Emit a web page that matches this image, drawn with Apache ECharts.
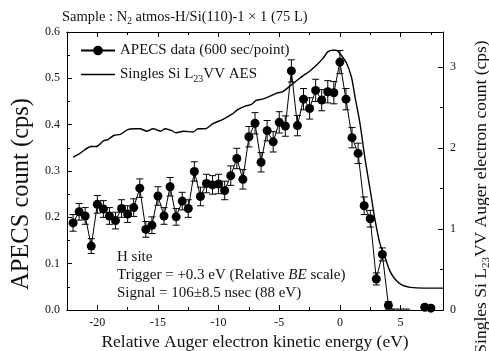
<!DOCTYPE html>
<html>
<head>
<meta charset="utf-8">
<script src="https://cdn.jsdelivr.net/npm/echarts@6/dist/echarts.min.js"></script>
<style>
  html, body { margin: 0; padding: 0; background: #fff; }
  #chart { width: 489px; height: 351px; }
</style>
</head>
<body>
<div id="chart"></div>
<script>
// APECS data, 0.5 eV steps
const apecsEnergy = [
  -22, -21.5, -21, -20.5, -20, -19.5, -19, -18.5, -18, -17.5,
  -17, -16.5, -16, -15.5, -15, -14.5, -14, -13.5, -13, -12.5,
  -12, -11.5, -11, -10.5, -10, -9.5, -9, -8.5, -8, -7.5,
  -7, -6.5, -6, -5.5, -5, -4.5, -4, -3.5, -3, -2.5,
  -2, -1.5, -1, -0.5, 0, 0.5, 1, 1.5, 2, 2.5,
  3, 3.5, 4, 4.5, 5, 5.5, 6, 6.5, 7, 7.5
];
const apecsCount = [
  0.188, 0.212, 0.203, 0.138, 0.228, 0.218, 0.203, 0.193, 0.219, 0.207,
  0.221, 0.263, 0.174, 0.183, 0.246, 0.203, 0.266, 0.201, 0.235, 0.219,
  0.299, 0.245, 0.273, 0.270, 0.272, 0.258, 0.290, 0.327, 0.282, 0.374,
  0.403, 0.319, 0.387, 0.363, 0.405, 0.397, 0.516, 0.398, 0.455, 0.435,
  0.474, 0.453, 0.471, 0.469, 0.535, 0.455, 0.372, 0.338, 0.225, 0.197,
  0.067, 0.120, 0.010, -0.002, -0.002, -0.002, -0.01, -0.01, 0.006, 0.004
];
const apecsError = [
  0.018, 0.018, 0.018, 0.016, 0.019, 0.018, 0.018, 0.018, 0.019, 0.018,
  0.019, 0.020, 0.017, 0.018, 0.020, 0.018, 0.020, 0.018, 0.019, 0.019,
  0.021, 0.020, 0.020, 0.020, 0.021, 0.020, 0.021, 0.022, 0.021, 0.022,
  0.023, 0.021, 0.022, 0.022, 0.023, 0.022, 0.024, 0.022, 0.023, 0.023,
  0.024, 0.023, 0.024, 0.024, 0.025, 0.023, 0.022, 0.022, 0.019, 0.018,
  0.013, 0.014, 0.008, 0.004, 0.004, 0.004, 0.004, 0.004, 0.006, 0.005
];

// singles Si L23VV AES (right axis)
const aesEnergy = [
  -22.0, -21.4, -20.5, -20.1, -19.5, -19.1, -18.6, -18.1, -17.5, -16.9,
  -16.5, -15.9, -15.4, -14.8, -14.4, -13.9, -13.5, -12.9, -12.1, -11.7,
  -11.1, -10.5, -9.6, -8.9, -8.4, -7.8, -7.3, -6.9, -6.3, -5.8,
  -5.2, -4.7, -4.1, -3.6, -3.0, -2.5, -1.9, -1.4, -1.0, -0.6,
  -0.3, 0.0, 0.55, 0.95, 1.25, 1.65, 2.05, 2.5, 2.9, 3.3,
  3.7, 4.1, 4.5, 5.1, 5.8, 6.9, 8.5
];
const aesCount = [
  1.89, 1.94, 2.02, 2.02, 2.09, 2.11, 2.16, 2.17, 2.23, 2.24,
  2.24, 2.21, 2.24, 2.21, 2.24, 2.22, 2.19, 2.21, 2.20, 2.24,
  2.24, 2.30, 2.36, 2.42, 2.48, 2.52, 2.54, 2.59, 2.61, 2.64,
  2.68, 2.70, 2.77, 2.83, 2.90, 2.95, 3.03, 3.11, 3.19, 3.21,
  3.21, 3.17, 3.05, 2.88, 2.63, 2.31, 1.89, 1.48, 1.11, 0.82,
  0.66, 0.49, 0.39, 0.31, 0.28, 0.27, 0.27
];

const xMajorTicks = [-20, -15, -10, -5, 0, 5];
const xMinorTicks = [-22.5, -17.5, -12.5, -7.5, -2.5, 2.5, 7.5];
const rightMajorTicks = [0, 1, 2, 3];
const rightMinorTicks = [0.5, 1.5, 2.5];

const FONT = "Liberation Serif";
const apecsName = "APECS data (600 sec/point)";
const aesName = "Singles Si L23VV AES";

const chart = echarts.init(document.getElementById("chart"));

function xAxisDef(pos, ticks, len, withLabel) {
  return {
    type: "value",
    position: pos,
    min: -22.5,
    max: 8.5,
    interval: 2.5,
    axisLine: { show: true, onZero: false, lineStyle: { color: "#000", width: 1 } },
    axisTick: { inside: true, length: len, customValues: ticks, lineStyle: { color: "#000" } },
    axisLabel: withLabel
      ? { show: true, customValues: ticks, margin: 7, fontFamily: FONT, fontSize: 12, color: "#111" }
      : { show: false },
    splitLine: { show: false },
  };
}

const xAxes = [
  xAxisDef("bottom", xMajorTicks, 5, true),
  xAxisDef("bottom", xMinorTicks, 3, false),
  xAxisDef("top", xMajorTicks, 5, false),
  xAxisDef("top", xMinorTicks, 3, false),
];
xAxes[0].name = "Relative Auger electron kinetic energy (eV)";
xAxes[0].nameLocation = "middle";
xAxes[0].nameGap = 23;
xAxes[0].nameTextStyle = { fontFamily: FONT, fontSize: 17.5, color: "#111" };

chart.setOption({
  animation: false,
  grid: { left: 67, right: 46, top: 32, bottom: 41, outerBoundsMode: "none", containLabel: false },
  title: {
    text: "{a|Sample : N}{s|2}{a| atmos-H/Si(110)-1 × 1 (75 L)}",
    left: 57,
    top: 3,
    textStyle: {
      fontWeight: "normal",
      rich: {
        a: { fontFamily: FONT, fontSize: 14.5, fontWeight: "normal", color: "#111" },
        s: { fontFamily: FONT, fontSize: 9.5, fontWeight: "normal", color: "#111", padding: [8, 0, 0, 0] },
      },
    },
  },
  legend: {
    orient: "vertical",
    left: 75,
    top: 38,
    itemWidth: 34,
    itemHeight: 12,
    itemGap: 9,
    data: [apecsName, { name: aesName, icon: "path://M0,0H34V1.4H0Z" }],
    formatter: (n) => (n === aesName ? "{t|Singles Si L}{s|23}{t|VV AES}" : "{t|" + n + "}"),
    textStyle: {
      rich: {
        t: { fontFamily: FONT, fontSize: 15, color: "#111" },
        s: { fontFamily: FONT, fontSize: 10, color: "#111", padding: [9, 0, 0, 0] },
      },
    },
  },
  xAxis: xAxes,
  yAxis: [
    {
      type: "value",
      position: "left",
      min: 0,
      max: 0.6,
      interval: 0.1,
      name: "APECS count (cps)",
      nameLocation: "middle",
      nameGap: 27,
      nameTextStyle: { fontFamily: FONT, fontSize: 24.5, color: "#111", padding: [0, 46, 0, 0] },
      axisLine: { show: true, onZero: false, lineStyle: { color: "#000" } },
      axisTick: { inside: true, length: 5, lineStyle: { color: "#000" } },
      minorTick: { show: true, splitNumber: 2, length: 3, lineStyle: { color: "#000" } },
      axisLabel: {
        margin: 7, fontFamily: FONT, fontSize: 12, color: "#111",
        formatter: (v) => v.toFixed(1),
      },
      splitLine: { show: false },
    },
    {
      type: "value",
      position: "right",
      min: 0,
      max: 3.436,
      interval: 1,
      name: "{t|Singles Si L}{s|23}{t|VV Auger electron count (cps)}",
      nameLocation: "middle",
      nameRotate: 90,
      nameGap: 28,
      nameTextStyle: {
        padding: [0, 52, 0, 0],
        rich: {
          t: { fontFamily: FONT, fontSize: 17.5, color: "#111" },
          s: { fontFamily: FONT, fontSize: 11, color: "#111", padding: [10, 0, 0, 0] },
        },
      },
      axisLine: { show: true, onZero: false, lineStyle: { color: "#000" } },
      axisTick: { inside: true, length: 5, customValues: rightMajorTicks, lineStyle: { color: "#000" } },
      axisLabel: { customValues: rightMajorTicks, margin: 7, fontFamily: FONT, fontSize: 12, color: "#111" },
      splitLine: { show: false },
    },
    {
      type: "value",
      position: "right",
      min: 0,
      max: 3.436,
      interval: 1,
      axisLine: { show: false, onZero: false },
      axisTick: { inside: true, length: 3, customValues: rightMinorTicks, lineStyle: { color: "#000" } },
      axisLabel: { show: false },
      splitLine: { show: false },
    },
  ],
  graphic: [
    {
      type: "text",
      left: 117,
      top: 248,
      style: {
        text: "H site\nTrigger = +0.3 eV (Relative {i|BE} scale)\nSignal = 106±8.5 nsec (88 eV)",
        font: "15px '" + FONT + "'",
        fill: "#111",
        lineHeight: 18,
        rich: { i: { fontStyle: "italic", fontFamily: FONT, fontSize: 15, fill: "#111" } },
      },
    },
  ],
  series: [
    {
      name: aesName,
      type: "line",
      xAxisIndex: 0,
      yAxisIndex: 1,
      data: aesEnergy.map((x, i) => [x, aesCount[i]]),
      showSymbol: false,
      symbol: "none",
      smooth: 0.3,
      lineStyle: { color: "#000", width: 1.4 },
      itemStyle: { color: "#000" },
      z: 2,
    },
    {
      name: "errors",
      type: "custom",
      xAxisIndex: 0,
      yAxisIndex: 0,
      clip: true,
      data: apecsEnergy.map((x, i) => [x, apecsCount[i], apecsError[i]]),
      renderItem: (params, api) => {
        const x = api.value(0);
        const y = api.value(1);
        const e = api.value(2);
        const top = api.coord([x, y + e]);
        const bot = api.coord([x, y - e]);
        const hw = 3.5;
        const st = { stroke: "#000", lineWidth: 1 };
        return {
          type: "group",
          children: [
            { type: "line", shape: { x1: top[0], y1: top[1], x2: bot[0], y2: bot[1] }, style: st },
            { type: "line", shape: { x1: top[0] - hw, y1: top[1], x2: top[0] + hw, y2: top[1] }, style: st },
            { type: "line", shape: { x1: bot[0] - hw, y1: bot[1], x2: bot[0] + hw, y2: bot[1] }, style: st },
          ],
        };
      },
      z: 3,
    },
    {
      name: apecsName,
      type: "line",
      xAxisIndex: 0,
      yAxisIndex: 0,
      data: apecsEnergy.map((x, i) => [x, apecsCount[i]]),
      symbol: "circle",
      symbolSize: 9,
      clip: true,
      lineStyle: { color: "#000", width: 1 },
      itemStyle: { color: "#000" },
      z: 4,
    },
  ],
});
</script>
</body>
</html>
